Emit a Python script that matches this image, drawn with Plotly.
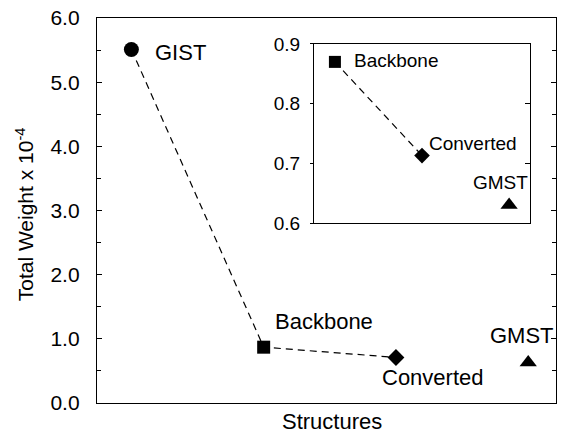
import plotly.graph_objects as go

# data
structures = ["GIST", "Backbone", "Converted", "GMST"]
positions = [1, 2, 3, 4]
weights = [5.51, 0.87, 0.71, 0.63]
inset_structures = ["Backbone", "Converted", "GMST"]
inset_positions = [2, 3, 4]
inset_weights = [0.87, 0.713, 0.63]
main_ticks = [0.0, 1.0, 2.0, 3.0, 4.0, 5.0, 6.0]
inset_ticks = [0.6, 0.7, 0.8, 0.9]

symbols = {"GIST": "circle", "Backbone": "square", "Converted": "diamond", "GMST": "triangle-up"}
msize_main = {"GIST": 15, "Backbone": 13, "Converted": 13, "GMST": 15}
msize_inset = {"Backbone": 12, "Converted": 12, "GMST": 15}

FONT = "Liberation Sans, Arial, sans-serif"
fig = go.Figure()

# main dashed line (connected first three)
fig.add_trace(go.Scatter(x=positions[:3], y=weights[:3], mode="lines",
                         line=dict(color="black", width=1.2, dash="7px,5px"),
                         xaxis="x", yaxis="y", showlegend=False))
for s, xv, yv in zip(structures, positions, weights):
    fig.add_trace(go.Scatter(x=[xv], y=[yv], mode="markers",
                             marker=dict(symbol=symbols[s], size=msize_main[s], color="black"),
                             xaxis="x", yaxis="y", showlegend=False))

# inset
fig.add_trace(go.Scatter(x=inset_positions[:2], y=inset_weights[:2], mode="lines",
                         line=dict(color="black", width=1.2, dash="7px,5px"),
                         xaxis="x2", yaxis="y2", showlegend=False))
for s, xv, yv in zip(inset_structures, inset_positions, inset_weights):
    fig.add_trace(go.Scatter(x=[xv], y=[yv], mode="markers",
                             marker=dict(symbol=symbols[s], size=msize_inset[s], color="black"),
                             xaxis="x2", yaxis="y2", showlegend=False))

# labels main
main_label_cfg = {
    "GIST": dict(xshift=22, yshift=-3, xanchor="left", yanchor="middle"),
    "Backbone": dict(xshift=9, yshift=26, xanchor="left", yanchor="middle"),
    "Converted": dict(xshift=-16, yshift=-20, xanchor="left", yanchor="middle"),
    "GMST": dict(xshift=28, yshift=27, xanchor="right", yanchor="middle"),
}
for s, xv, yv in zip(structures, positions, weights):
    c = main_label_cfg[s]
    fig.add_annotation(x=xv, y=yv, xref="x", yref="y", text=s, showarrow=False,
                       font=dict(family=FONT, size=22, color="black"), **c)

inset_label_cfg = {
    "Backbone": dict(xshift=17, yshift=1, xanchor="left", yanchor="middle"),
    "Converted": dict(xshift=5, yshift=12, xanchor="left", yanchor="middle"),
    "GMST": dict(xshift=21, yshift=23, xanchor="right", yanchor="middle"),
}
for s, xv, yv in zip(inset_structures, inset_positions, inset_weights):
    c = inset_label_cfg[s]
    fig.add_annotation(x=xv, y=yv, xref="x2", yref="y2", text=s, showarrow=False,
                       font=dict(family=FONT, size=19, color="black"), **c)

# axis titles as paper annotations
fig.add_annotation(x=-0.157, y=0.49, xref="paper", yref="paper", text="Total Weight x 10<sup>-4</sup>",
                   textangle=-90, showarrow=False, xanchor="center", yanchor="middle",
                   font=dict(family=FONT, size=21, color="black"))
fig.add_annotation(x=0.512, y=-0.047, xref="paper", yref="paper", text="Structures",
                   showarrow=False, xanchor="center", yanchor="middle",
                   font=dict(family=FONT, size=22, color="black"))

fig.update_layout(
    width=564, height=438,
    margin=dict(l=97, r=8, t=18, b=35),
    plot_bgcolor="white", paper_bgcolor="white",
    font=dict(family=FONT, color="black"),
    xaxis=dict(domain=[0, 1], range=[0.74, 4.21], showticklabels=False, ticks="",
               showgrid=False, zeroline=False, showline=True, linecolor="black",
               linewidth=1.3, mirror=True, automargin=False),
    yaxis=dict(domain=[0, 1], range=[0, 6], tickvals=main_ticks, tickformat=".1f",
               ticks="inside", ticklen=5, tickcolor="black", tickwidth=1,
               minor=dict(dtick=0.5, ticks="inside", ticklen=4, tickcolor="black", tickwidth=1),
               showgrid=False, zeroline=False, showline=True, linecolor="black",
               linewidth=1.3, mirror="ticks", ticklabelstandoff=12, automargin=False,
               tickfont=dict(family=FONT, size=21)),
    xaxis2=dict(domain=[0.4728, 0.9434], range=[1.76, 4.24], anchor="y2",
                showticklabels=False, ticks="", showgrid=False, zeroline=False,
                showline=True, linecolor="black", linewidth=1.2, mirror=True, automargin=False),
    yaxis2=dict(domain=[0.4675, 0.9325], range=[0.6, 0.9], anchor="x2", tickvals=inset_ticks,
                tickformat=".1f", ticks="outside", ticklen=3, tickcolor="black",
                showgrid=False, zeroline=False, showline=True, linecolor="black",
                linewidth=1.2, mirror=True, automargin=False, ticklabelstandoff=6,
                tickfont=dict(family=FONT, size=19)),
    yaxis3=dict(overlaying="y2", side="right", anchor="x2", range=[0.6, 0.9],
                tickvals=inset_ticks, ticks="inside", ticklen=5, tickcolor="black",
                showticklabels=False, showgrid=False, zeroline=False, showline=False,
                automargin=False),
)
fig.add_trace(go.Scatter(x=[None], y=[None], xaxis="x2", yaxis="y3", showlegend=False))

fig.write_html("out.html", config={"displayModeBar": False},
               post_script="document.body.style.margin='0';document.body.style.padding='0';")
